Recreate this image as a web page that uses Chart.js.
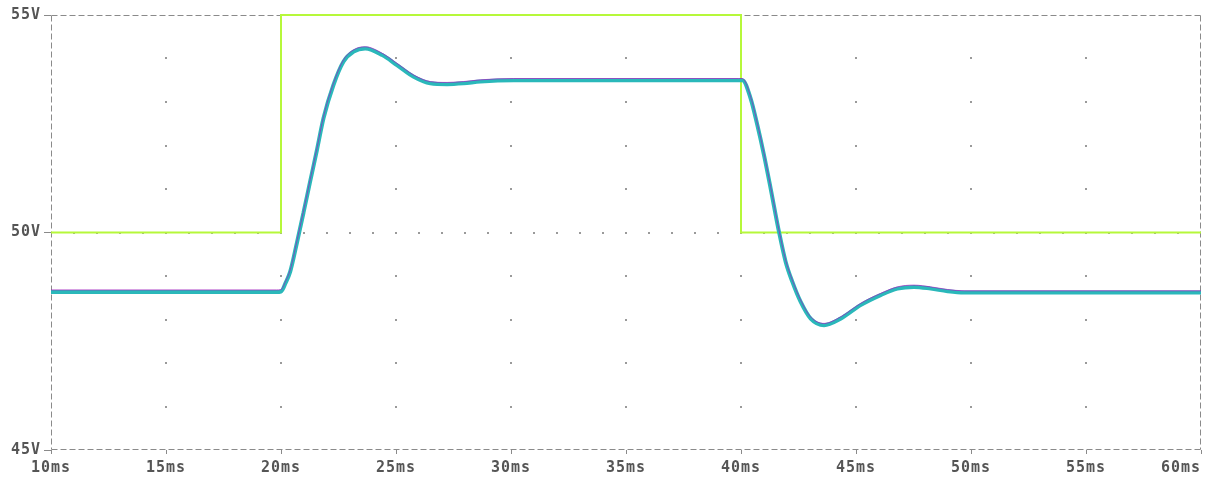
<!DOCTYPE html>
<html>
<head>
<meta charset="utf-8">
<script src="https://cdn.jsdelivr.net/npm/chart.js@4"></script>
<style>
  html, body { margin: 0; padding: 0; background: #ffffff; }
  #wrap { width: 1205px; height: 477px; position: relative; }
</style>
</head>
<body>
<div id="wrap"><canvas id="c" width="1205" height="477"></canvas></div>
<script>
// ---- data ----
const timeMs = [10, 12, 14, 16, 18, 19.8, 20.0, 20.2, 20.4, 20.69, 20.98, 21.27, 21.56, 21.85, 22.28, 22.72, 23.16, 23.66, 24.4, 25.04, 25.77, 26.49, 27.22, 27.94, 28.67, 30.12, 32, 34, 36, 38, 39.9, 40.06, 40.42, 40.71, 41.0, 41.29, 41.65, 41.94, 42.23, 42.59, 43.03, 43.61, 44.33, 45.2, 46.07, 46.8, 47.52, 48.25, 48.98, 49.7, 51, 53, 55, 57, 60];
const filteredV = [48.68, 48.68, 48.68, 48.68, 48.68, 48.68, 48.69, 48.88, 49.14, 49.80, 50.50, 51.22, 51.93, 52.67, 53.43, 53.97, 54.20, 54.27, 54.12, 53.89, 53.62, 53.47, 53.45, 53.47, 53.51, 53.54, 53.54, 53.54, 53.54, 53.54, 53.54, 53.54, 53.12, 52.51, 51.82, 51.05, 50.06, 49.37, 48.91, 48.45, 48.06, 47.91, 48.06, 48.37, 48.60, 48.75, 48.79, 48.75, 48.69, 48.66, 48.66, 48.66, 48.66, 48.66, 48.66];
const rawV = [48.63, 48.63, 48.63, 48.63, 48.63, 48.63, 48.64, 48.84, 49.10, 49.76, 50.46, 51.18, 51.89, 52.63, 53.39, 53.93, 54.16, 54.23, 54.08, 53.85, 53.58, 53.43, 53.41, 53.43, 53.47, 53.50, 53.50, 53.50, 53.50, 53.50, 53.50, 53.50, 53.08, 52.47, 51.78, 51.01, 50.02, 49.33, 48.87, 48.41, 48.02, 47.87, 48.02, 48.33, 48.56, 48.71, 48.75, 48.71, 48.65, 48.62, 48.62, 48.62, 48.62, 48.62, 48.62];
const stepTimeMs = [10, 20, 20, 40, 40, 60];
const stepV = [50, 50, 55, 55, 50, 50];
const xTickValues = [10, 15, 20, 25, 30, 35, 40, 45, 50, 55, 60];
const yTickValues = [45, 50, 55];
const xTickLabels = ['10ms', '15ms', '20ms', '25ms', '30ms', '35ms', '40ms', '45ms', '50ms', '55ms', '60ms'];
const yTickLabels = ['45V', '50V', '55V'];

const FONT = { family: "'DejaVu Sans Mono', monospace", size: 15, weight: 'bold' };
const TEXT = '#555555';
const GRIDC = '#8a8a8a';

const frameAndDots = {
  id: 'frameAndDots',
  beforeDraw(chart) {
    try { chart.ctx.letterSpacing = '1px'; } catch (e) {}
  },
  beforeDatasetsDraw(chart) {
    const { ctx, chartArea: a, scales: { x, y } } = chart;
    ctx.save();
    // dotted grid
    ctx.fillStyle = '#9a9a9a';
    for (let t = 15; t < 60; t += 5) {
      for (let v = 46; v < 55; v += 1) {
        ctx.fillRect(Math.round(x.getPixelForValue(t)) - 1, Math.round(y.getPixelForValue(v)) - 1, 2, 2);
      }
    }
    for (let t = 11; t < 60; t += 1) {
      ctx.fillRect(Math.round(x.getPixelForValue(t)) - 1, Math.round(y.getPixelForValue(50)) - 1, 2, 2);
    }
    // dashed frame
    ctx.strokeStyle = GRIDC;
    ctx.lineWidth = 1;
    ctx.setLineDash([6, 3]);
    const l = Math.round(a.left) + 0.5, r = Math.round(a.right) - 0.5;
    const t = Math.round(a.top) + 0.5, b = Math.round(a.bottom) - 0.5;
    ctx.beginPath();
    ctx.moveTo(l, t); ctx.lineTo(r, t);
    ctx.moveTo(r, t); ctx.lineTo(r, b);
    ctx.moveTo(l, b); ctx.lineTo(r, b);
    ctx.moveTo(l, t); ctx.lineTo(l, b);
    ctx.stroke();
    ctx.restore();
  }
};

new Chart(document.getElementById('c'), {
  type: 'line',
  data: {
    datasets: [
      {
        label: 'step',
        data: stepTimeMs.map((t, i) => ({ x: t, y: stepV[i] })),
        borderColor: '#b6f83a',
        borderWidth: 2,
        pointRadius: 0,
        tension: 0,
        clip: 3,
        order: 3
      },
      {
        label: 'raw',
        data: timeMs.map((t, i) => ({ x: t, y: rawV[i] })),
        borderColor: '#2ab8ba',
        borderWidth: 4,
        pointRadius: 0,
        cubicInterpolationMode: 'monotone',
        order: 2
      },
      {
        label: 'filtered',
        data: timeMs.map((t, i) => ({ x: t, y: filteredV[i] })),
        borderColor: 'rgba(160,30,190,0.7)',
        borderWidth: 1,
        pointRadius: 0,
        cubicInterpolationMode: 'monotone',
        order: 1
      }
    ]
  },
  options: {
    responsive: false,
    animation: false,
    layout: { padding: { top: 15, right: 4, left: 0, bottom: 0 } },
    plugins: { legend: { display: false }, tooltip: { enabled: false } },
    scales: {
      x: {
        type: 'linear',
        min: 10, max: 60,
        afterBuildTicks(s) { s.ticks = xTickValues.map(v => ({ value: v })); },
        afterFit(s) { s.height = 27; s.paddingLeft = 0; s.paddingRight = 0; },
        border: { display: false },
        grid: { drawOnChartArea: false, drawTicks: true, tickLength: 4, color: GRIDC },
        ticks: {
          font: FONT, color: TEXT, padding: 5, maxRotation: 0, autoSkip: false,
          callback(v) {
            const i = xTickValues.indexOf(v);
            const s = i >= 0 ? xTickLabels[i] : '';
            return v === 60 ? s + '    ' : s;
          }
        }
      },
      y: {
        type: 'linear',
        min: 45, max: 55,
        afterBuildTicks(s) { s.ticks = yTickValues.map(v => ({ value: v })); },
        afterFit(s) { s.width = 51; },
        border: { display: false },
        grid: { drawOnChartArea: false, drawTicks: true, tickLength: 7, color: GRIDC },
        ticks: {
          font: FONT, color: TEXT, padding: 3,
          callback(v) {
            const i = yTickValues.indexOf(v);
            return i >= 0 ? yTickLabels[i] : '';
          }
        }
      }
    }
  },
  plugins: [frameAndDots]
});
</script>
</body>
</html>
